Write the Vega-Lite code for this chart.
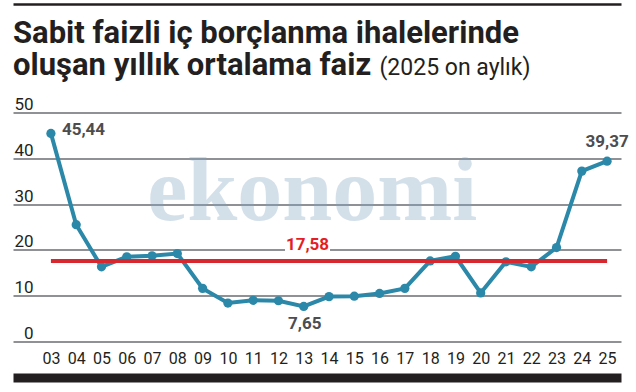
{
  "$schema": "https://vega.github.io/schema/vega-lite/v6.json",
  "width": 608,
  "height": 229,
  "autosize": {"type": "none"},
  "padding": {"left": 13, "top": 112.5, "right": 15, "bottom": 50.5},
  "background": "white",
  "config": {
    "locale": {"number": {"decimal": ",", "thousands": ".", "grouping": [3], "currency": ["", " TL"]}},
    "view": {"stroke": null}
  },
  "title": {
    "text": ["Sabit faizli iç borçlanma ihalelerinde", "oluşan yıllık ortalama faiz"],
    "anchor": "start",
    "frame": "group",
    "font": "Roboto",
    "fontSize": 31,
    "fontWeight": "bold",
    "color": "#231f20",
    "lineHeight": 32,
    "offset": -78
  },
  "datasets": {
    "faiz": [
      {"yil": 2003, "faiz": 45.44},
      {"yil": 2004, "faiz": 25.5},
      {"yil": 2005, "faiz": 16.3},
      {"yil": 2006, "faiz": 18.5},
      {"yil": 2007, "faiz": 18.7},
      {"yil": 2008, "faiz": 19.2},
      {"yil": 2009, "faiz": 11.6},
      {"yil": 2010, "faiz": 8.4},
      {"yil": 2011, "faiz": 9.0},
      {"yil": 2012, "faiz": 8.9},
      {"yil": 2013, "faiz": 7.65},
      {"yil": 2014, "faiz": 9.8},
      {"yil": 2015, "faiz": 9.9},
      {"yil": 2016, "faiz": 10.5},
      {"yil": 2017, "faiz": 11.6},
      {"yil": 2018, "faiz": 17.6},
      {"yil": 2019, "faiz": 18.6},
      {"yil": 2020, "faiz": 10.6},
      {"yil": 2021, "faiz": 17.4},
      {"yil": 2022, "faiz": 16.3},
      {"yil": 2023, "faiz": 20.5},
      {"yil": 2024, "faiz": 37.2},
      {"yil": 2025, "faiz": 39.37}
    ],
    "ortalama": [
      {"baslangic": 2003, "bitis": 2025, "ortalama": 17.58}
    ],
    "filigran": [
      {"yazi": "ekonomi"}
    ]
  },
  "layer": [
    {
      "data": {"name": "filigran"},
      "mark": {"type": "text", "font": "Liberation Serif", "fontWeight": "bold", "fontSize": 90, "fill": "#7fa5c4", "opacity": 0.34, "align": "center", "baseline": "alphabetic"},
      "encoding": {
        "x": {"datum": 2013.34, "type": "quantitative", "scale": {"domain": [2001.5, 2025.55], "nice": false, "zero": false}, "axis": null},
        "y": {
          "datum": 26.6, "type": "quantitative",
          "scale": {"domain": [0, 50], "nice": false, "zero": true},
          "axis": {
            "values": [0, 10, 20, 30, 40, 50],
            "orient": "left",
            "grid": true, "gridColor": "#8f9194", "gridWidth": 2,
            "domain": false, "ticks": false,
            "labelFont": "Roboto", "labelFontSize": 17, "labelColor": "#231f20",
            "labelAlign": "right", "labelBaseline": "alphabetic", "labelPadding": -20, "labelOffset": -3,
            "labelFlush": false, "labelOverlap": false, "labelBound": false,
            "title": null
          }
        },
        "text": {"field": "yazi"}
      }
    },
    {
      "data": {"name": "ortalama"},
      "mark": {"type": "rule", "color": "white", "strokeWidth": 4},
      "encoding": {
        "x": {"datum": 2012.26, "type": "quantitative", "axis": null},
        "x2": {"datum": 2014.04},
        "y": {"datum": 20, "type": "quantitative", "axis": null}
      }
    },
    {
      "data": {"name": "faiz"},
      "mark": {"type": "line", "color": "#2b88a8", "strokeWidth": 4, "point": {"filled": true, "size": 85, "color": "#2b88a8"}},
      "encoding": {
        "x": {
          "field": "yil", "type": "quantitative",
          "scale": {"domain": [2001.5, 2025.55], "nice": false, "zero": false},
          "axis": {
            "orient": "bottom",
            "values": [2003, 2004, 2005, 2006, 2007, 2008, 2009, 2010, 2011, 2012, 2013, 2014, 2015, 2016, 2017, 2018, 2019, 2020, 2021, 2022, 2023, 2024, 2025],
            "format": "d",
            "labelExpr": "slice(datum.label, 2)",
            "offset": 36,
            "domain": true, "domainColor": "#231f20", "domainWidth": 9,
            "ticks": false, "grid": false,
            "labelFont": "Roboto", "labelFontSize": 16, "labelColor": "#231f20",
            "labelBaseline": "alphabetic", "labelPadding": -14,
            "labelFlush": false, "labelOverlap": false, "labelBound": false,
            "title": null
          }
        },
        "y": {"field": "faiz", "type": "quantitative", "axis": null}
      }
    },
    {
      "data": {"name": "ortalama"},
      "mark": {"type": "rule", "color": "#d7282f", "strokeWidth": 4},
      "encoding": {
        "x": {
          "field": "baslangic", "type": "quantitative",
          "axis": {"orient": "top", "offset": 108.5, "domain": true, "domainColor": "#231f20", "domainWidth": 2.5, "ticks": false, "labels": false, "grid": false, "title": "(2025 on aylık)", "titleFont": "Roboto", "titleFontSize": 23, "titleFontWeight": "normal", "titleColor": "#231f20", "titleAlign": "left", "titleBaseline": "alphabetic", "titleAnchor": "start", "titleX": 366, "titleY": 70}
        },
        "x2": {"field": "bitis"},
        "y": {"field": "ortalama", "type": "quantitative", "axis": null}
      }
    },
    {
      "data": {"name": "ortalama"},
      "mark": {"type": "text", "font": "Roboto", "fontWeight": "bold", "fontSize": 17, "fill": "#e31e24", "align": "center", "baseline": "alphabetic", "dy": -11},
      "encoding": {
        "x": {"datum": 2013.15, "type": "quantitative", "axis": null},
        "y": {"field": "ortalama", "type": "quantitative", "axis": null},
        "text": {"field": "ortalama", "type": "quantitative", "format": ".2f"}
      }
    },
    {
      "data": {"name": "faiz"},
      "transform": [{"filter": "datum.yil == 2003"}],
      "mark": {"type": "text", "font": "Roboto", "fontWeight": "bold", "fontSize": 17, "fill": "#4d4d4f", "align": "left", "baseline": "middle", "dx": 11, "dy": -3},
      "encoding": {
        "x": {"field": "yil", "type": "quantitative", "axis": null},
        "y": {"field": "faiz", "type": "quantitative", "axis": null},
        "text": {"field": "faiz", "type": "quantitative", "format": ".2f"}
      }
    },
    {
      "data": {"name": "faiz"},
      "transform": [{"filter": "datum.yil == 2013"}],
      "mark": {"type": "text", "font": "Roboto", "fontWeight": "bold", "fontSize": 17, "fill": "#4d4d4f", "align": "center", "baseline": "alphabetic", "dx": 1, "dy": 23},
      "encoding": {
        "x": {"field": "yil", "type": "quantitative", "axis": null},
        "y": {"field": "faiz", "type": "quantitative", "axis": null},
        "text": {"field": "faiz", "type": "quantitative", "format": ".2f"}
      }
    },
    {
      "data": {"name": "faiz"},
      "transform": [{"filter": "datum.yil == 2025"}],
      "mark": {"type": "text", "font": "Roboto", "fontWeight": "bold", "fontSize": 17, "fill": "#4d4d4f", "align": "center", "baseline": "alphabetic", "dy": -14},
      "encoding": {
        "x": {"field": "yil", "type": "quantitative", "axis": null},
        "y": {"field": "faiz", "type": "quantitative", "axis": null},
        "text": {"field": "faiz", "type": "quantitative", "format": ".2f"}
      }
    }
  ],
  "resolve": {"axis": {"x": "independent", "y": "independent"}}
}
